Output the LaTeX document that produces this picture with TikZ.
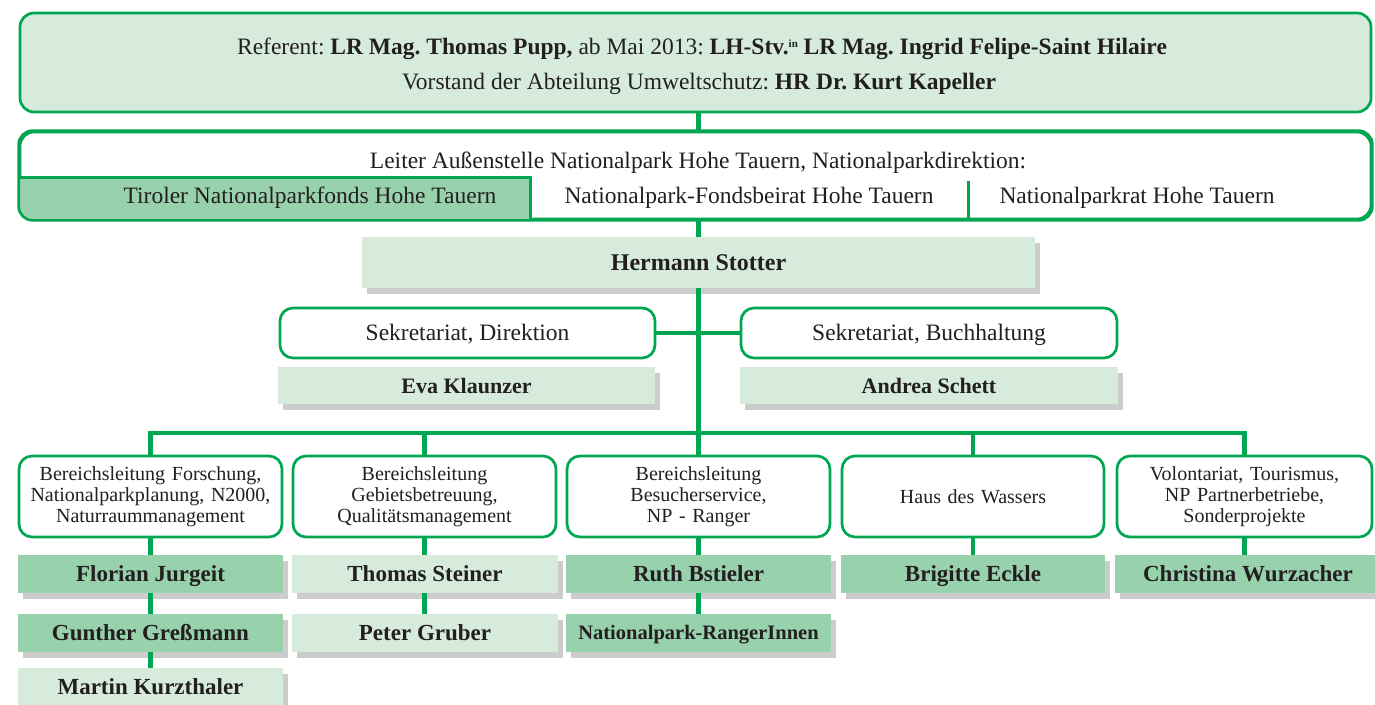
\documentclass[tikz,border=0pt]{standalone}
\usepackage{fontspec}
\setmainfont{Liberation Serif}
\usetikzlibrary{shadows,calc}
\definecolor{npgreen}{HTML}{00A651}
\definecolor{lightfill}{HTML}{D6EBDC}
\definecolor{darkfill}{HTML}{98D2AC}
\definecolor{textcol}{HTML}{231F20}
\frenchspacing
\begin{document}
\begin{tikzpicture}[x=1pt,y=-1pt,
  every node/.style={text=textcol},
  reg/.style={font=\fontsize{23.5}{28}\selectfont},
  bigbox/.style={draw=npgreen, line width=2.7pt, rounded corners=14pt, inner sep=0pt},
  catbox/.style={draw=npgreen, fill=white, line width=2.7pt, rounded corners=13pt, inner sep=0pt,
    minimum height=81pt, align=center, text width=240pt, font=\fontsize{20}{21}\selectfont},
  secbox/.style={draw=npgreen, fill=white, line width=2.7pt, rounded corners=13pt, inner sep=0pt,
    minimum height=50pt, font=\fontsize{23.5}{28}\selectfont, text height=15.6pt, text depth=0pt},
  namebox/.style={inner sep=0pt, minimum height=38pt, minimum width=265pt,
    font=\fontsize{23}{28}\selectfont\bfseries, text height=15.2pt, text depth=0pt,
    drop shadow={shadow xshift=5pt, shadow yshift=-6pt, fill=black, opacity=0.2}},
  dark/.style={fill=darkfill}, light/.style={fill=lightfill},
  conn/.style={draw=npgreen, line width=4.5pt},
  thin/.style={draw=npgreen, line width=2.7pt}
]
\useasboundingbox (0,0) rectangle (1375,704);

% top box
\node[bigbox, fill=lightfill, minimum width=1351pt, minimum height=99pt] (top) at (695.5,62.5) {};
\node[reg, anchor=base] (topA) at (702,54) {Referent: \textbf{LR Mag. Thomas Pupp,} ab Mai 2013: \textbf{LH-Stv.\raisebox{7pt}{\fontsize{11}{11}\selectfont in} LR Mag. Ingrid Felipe-Saint Hilaire}};
\node[reg, anchor=base] (topB) at (699,89) {Vorstand der Abteilung Umweltschutz: \textbf{HR Dr. Kurt Kapeller}};

% second box
\node[bigbox, fill=white, minimum width=1351pt, minimum height=87pt] (mid) at (695.5,175.5) {};
\fill[darkfill] ($(mid.south west)+(0,-43)$) [rounded corners=14pt] -- (mid.south west) [sharp corners] -- ++(512,0) -- ++(0,-43) -- cycle;
\draw[thin, rounded corners=14pt] (mid.south west) rectangle (mid.north east);
\draw[thin] ($(mid.south west)+(0,-43)$) -- ++(512,0) -- ++(0,43);
\draw[npgreen, line width=2.5pt] ($(mid.south west)+(950,-39)$) -- ++(0,37);
\node[reg, anchor=base] (lead) at (698,168) {Leiter Außenstelle Nationalpark Hohe Tauern, Nationalparkdirektion:};
\node[reg, anchor=base] (fonds) at (310,203) {Tiroler Nationalparkfonds Hohe Tauern};
\node[reg, anchor=base] (beirat) at (749,203) {Nationalpark-Fondsbeirat Hohe Tauern};
\node[reg, anchor=base] (rat) at (1137,203) {Nationalparkrat Hohe Tauern};

% director
\node[namebox, light, minimum width=673pt, minimum height=51pt, font=\fontsize{24}{28}\selectfont\bfseries] (herm) at (698.5,262.5) {Hermann Stotter};

% secretariats
\node[secbox, minimum width=375pt] (sek1) at (467.5,333) {Sekretariat, Direktion};
\node[secbox, minimum width=376pt] (sek2) at (929,333) {Sekretariat, Buchhaltung};
\node[namebox, light, minimum width=377pt, minimum height=37pt, font=\fontsize{22}{28}\selectfont\bfseries] (eva) at (466.5,385.5) {Eva Klaunzer};
\node[namebox, light, minimum width=378pt, minimum height=37pt, font=\fontsize{22}{28}\selectfont\bfseries] (andrea) at (929,385.5) {Andrea Schett};

% departments
\node[catbox, minimum width=263pt] (b1) at (150.5,496.5) {Bereichsleitung Forschung,\\Nationalparkplanung, N2000,\\Naturraummanagement};
\node[catbox, minimum width=263pt] (b2) at (424.5,496.5) {Bereichsleitung\\Gebietsbetreuung,\\Qualitätsmanagement};
\node[catbox, minimum width=263pt] (b3) at (698.5,496.5) {Bereichsleitung\\Besucherservice,\\NP - Ranger};
\node[catbox, minimum width=262pt] (b4) at (973,496.5) {Haus des Wassers};
\node[catbox, minimum width=255pt] (b5) at (1244.5,496.5) {Volontariat, Tourismus,\\NP Partnerbetriebe,\\Sonderprojekte};

% people
\node[namebox, dark] (florian) at (150.5,574) {Florian Jurgeit};
\node[namebox, light, minimum width=266pt] (thomas) at (425,574) {Thomas Steiner};
\node[namebox, dark] (ruth) at (698.5,574) {Ruth Bstieler};
\node[namebox, dark, minimum width=264pt] (brigitte) at (973,574) {Brigitte Eckle};
\node[namebox, dark, minimum width=266pt] (christina) at (1248,574) {Christina Wurzacher};
\node[namebox, dark] (gunther) at (150.5,633) {Gunther Greßmann};
\node[namebox, light, minimum width=266pt] (peter) at (425,633) {Peter Gruber};
\node[namebox, dark, font=\fontsize{20.5}{24}\selectfont\bfseries, text height=13.6pt] (ranger) at (698.5,633) {Nationalpark-RangerInnen};
\node[namebox, light] (martin) at (150.5,687) {Martin Kurzthaler};

% connectors
\coordinate (bus) at (698.5,433);
\draw[conn] (top.south -| herm.north) -- (mid.north -| herm.north);
\draw[conn] (mid.south -| herm.north) -- (herm.north);
\draw[conn] (herm.south) -- (b3.north);
\draw[conn] (sek1.east) -- (sek2.west);
\draw[conn] (b1.north) -- (b1.north |- bus) -| (b5.north);
\draw[conn] (b2.north |- bus) -- (b2.north);
\draw[conn] (b4.north |- bus) -- (b4.north);
\draw[conn] (b1.south) -- (florian.north);
\draw[conn] (florian.south) -- (gunther.north);
\draw[conn] (gunther.south) -- (martin.north);
\draw[conn] (b2.south) -- (b2.south |- thomas.north);
\draw[conn] (thomas.south -| b2.south) -- (peter.north -| b2.south);
\draw[conn] (b3.south) -- (ruth.north);
\draw[conn] (ruth.south) -- (ranger.north);
\draw[conn] (b4.south) -- (brigitte.north);
\draw[conn] (b5.south) -- (b5.south |- christina.north);
\end{tikzpicture}
\end{document}
